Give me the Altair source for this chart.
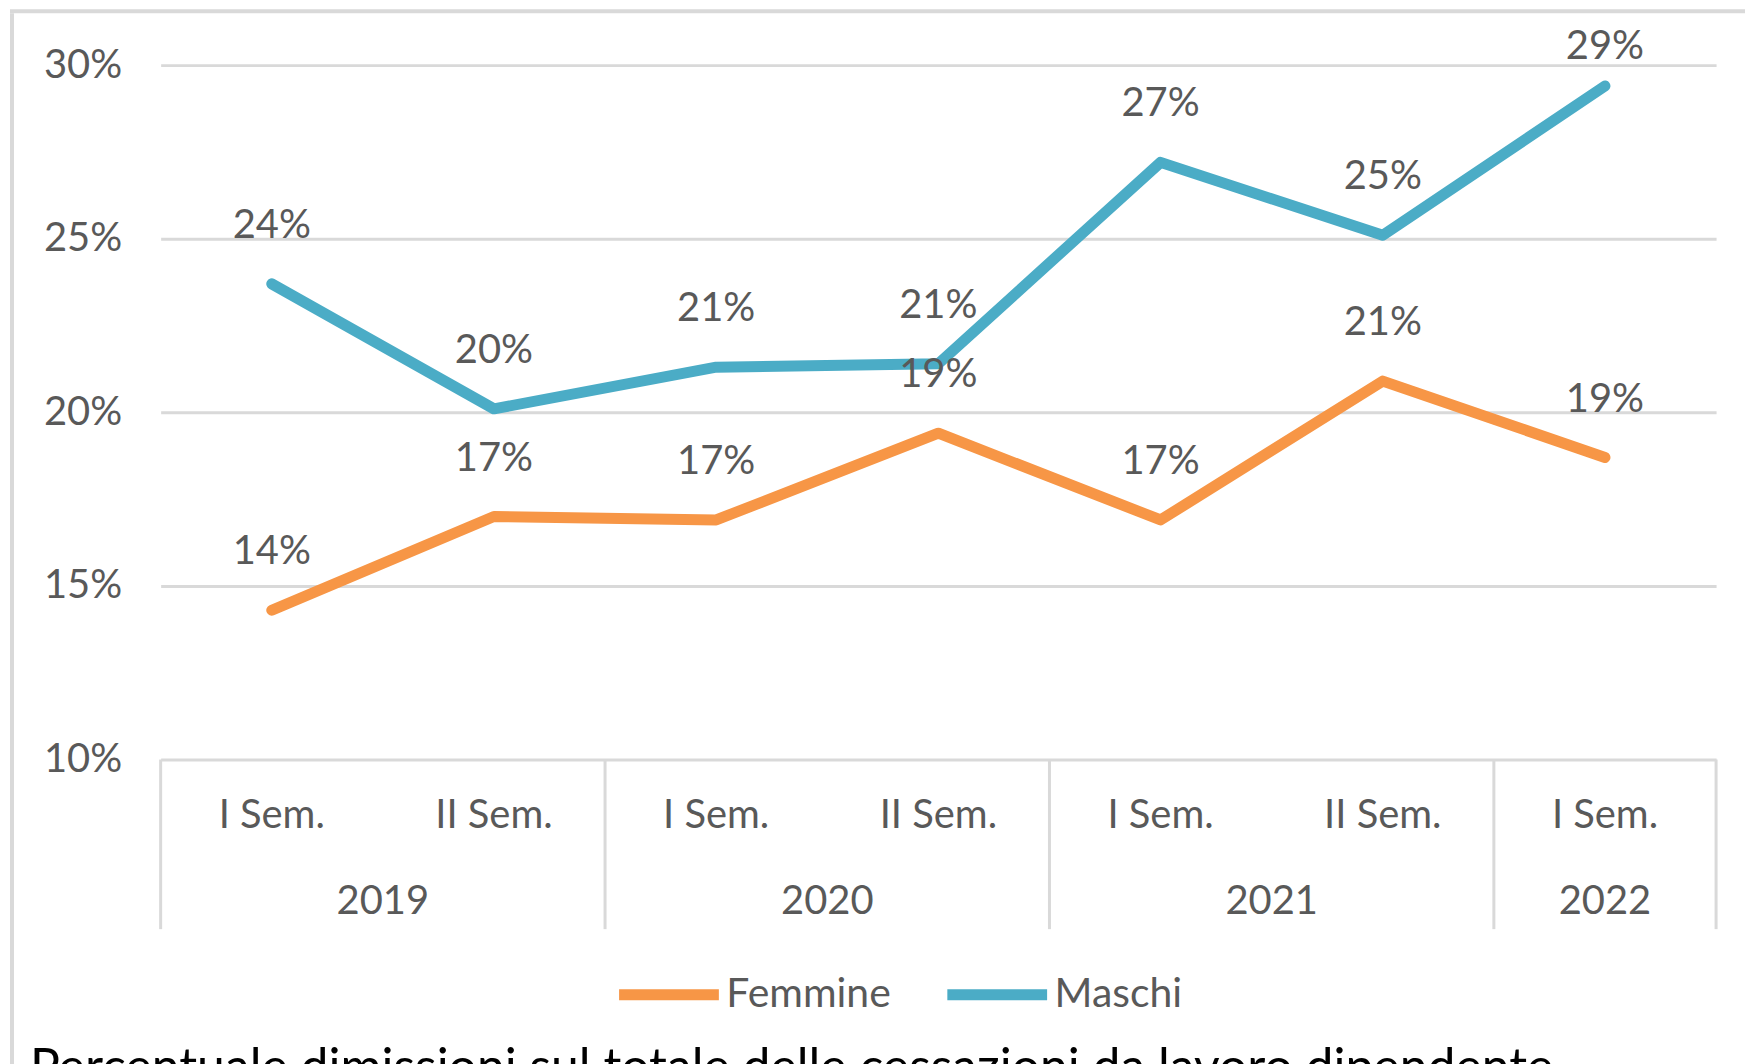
import altair as alt
import pandas as pd

# ---------------- data ----------------
periods = ["I Sem.", "II Sem.", "I Sem.", "II Sem.", "I Sem.", "II Sem.", "I Sem."]
femmine = [14.3, 17.0, 16.9, 19.4, 16.9, 20.9, 18.7]
maschi = [23.7, 20.1, 21.3, 21.4, 27.2, 25.1, 29.4]
years = ["2019", "2020", "2021", "2022"]
year_start = [0, 2, 4, 6]
year_end = [2, 4, 6, 7]
series = ["Femmine", "Maschi"]
colors = ["#F79646", "#4BACC6"]
y_ticks = [10, 15, 20, 25, 30]
title_text = "Percentuale dimissioni sul totale delle cessazioni da lavoro dipendente"

# ---------------- tables ----------------
rows = []
for name, vals in zip(series, [femmine, maschi]):
    for i, v in enumerate(vals):
        rows.append({"pos": i + 0.5, "serie": name, "value": v})
df = pd.DataFrame(rows)

df_per = pd.DataFrame({"pos": [i + 0.5 for i in range(len(periods))], "label": periods})
df_year = pd.DataFrame({"mid": [(s + e) / 2 for s, e in zip(year_start, year_end)], "year": years})
df_div = pd.DataFrame({"b": year_start + [year_end[-1]]})

FONT = "Lato"
FS = 40
GRAY = "#595959"
GRID = "#d9d9d9"
W, H = 1559, 696

xs = alt.Scale(domain=[0, len(periods)], nice=False, zero=False)
ys = alt.Scale(domain=[10, 30], nice=False, zero=False)


def y_axis():
    return alt.Axis(
        values=y_ticks, labelExpr="datum.value + '%'", grid=True, gridColor=GRID, gridWidth=3,
        domain=False, ticks=False, labelPadding=39, labelFontSize=FS, labelColor=GRAY,
        labelFont=FONT, title=None)


lines = alt.Chart(df).mark_line(strokeWidth=11, strokeCap="round", strokeJoin="round").encode(
    x=alt.X("pos:Q", scale=xs, axis=None),
    y=alt.Y("value:Q", scale=ys, axis=y_axis()),
    color=alt.Color("serie:N", scale=alt.Scale(domain=series, range=colors), legend=alt.Legend(
        orient="none", direction="horizontal", legendX=454, legendY=876, title=None,
        symbolType="stroke", symbolSize=10000, symbolStrokeWidth=11, labelFontSize=41,
        labelFont=FONT, labelColor=GRAY, labelOffset=2, labelLimit=400, columnPadding=34)),
)

labels = alt.Chart(df).transform_calculate(
    label_y="min(datum.value + 1.667, 30.52)",
    label="format(datum.value, '.0f') + '%'",
).mark_text(fontSize=FS, font=FONT, color=GRAY, baseline="middle").encode(
    x=alt.X("pos:Q", scale=xs, axis=None),
    y=alt.Y("label_y:Q", scale=ys, axis=y_axis()),
    text="label:N",
)

per_labels = alt.Chart(df_per).mark_text(fontSize=FS, font=FONT, color=GRAY, baseline="middle").encode(
    x=alt.X("pos:Q", scale=xs, axis=None), y=alt.value(753), text="label:N")

year_labels = alt.Chart(df_year).mark_text(fontSize=FS, font=FONT, color=GRAY, baseline="middle").encode(
    x=alt.X("mid:Q", scale=xs, axis=None), y=alt.value(839), text="year:N")

dividers = alt.Chart(df_div).mark_rule(color=GRID, strokeWidth=3).encode(
    x=alt.X("b:Q", scale=xs, axis=None), y=alt.value(H), y2=alt.value(866))

frame_left = alt.Chart(pd.DataFrame({"k": [0]})).mark_rule(color=GRID, strokeWidth=4).encode(
    x=alt.value(-149), y=alt.value(-52), y2=alt.value(1035))
frame_top = alt.Chart(pd.DataFrame({"k": [0]})).mark_rule(color=GRID, strokeWidth=4).encode(
    x=alt.value(-151), x2=alt.value(W + 29), y=alt.value(-54))

title = alt.Chart(pd.DataFrame({"t": [title_text]})).mark_text(
    fontSize=50, font=FONT, color="#000000", align="left", baseline="alphabetic").encode(
    x=alt.value(-131), y=alt.value(1021), text="t:N")

chart = alt.layer(
    frame_left, frame_top, dividers, lines, labels, per_labels, year_labels, title
).properties(width=W, height=H, padding=0).configure_view(strokeWidth=0)

chart.save("out.html", embed_options={"renderer": "svg", "actions": False})
